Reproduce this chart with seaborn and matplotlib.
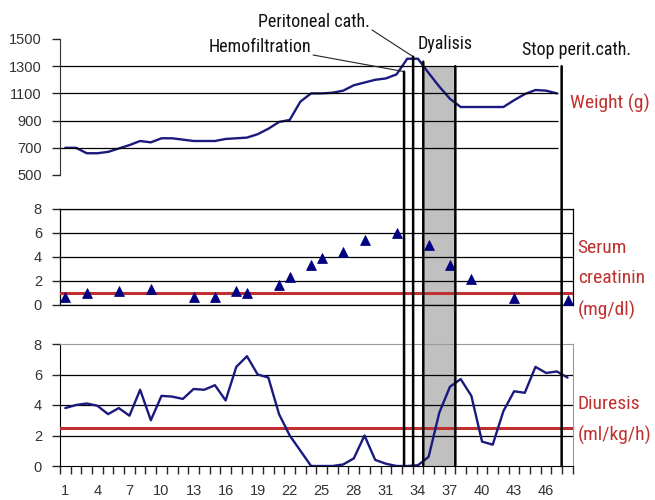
import numpy as np
import pandas as pd
import matplotlib
matplotlib.use("Agg")
import matplotlib.pyplot as plt
import matplotlib.transforms as mtransforms
from matplotlib import font_manager
from matplotlib.patches import Rectangle, ConnectionPatch
import seaborn as sns

# data (days 1..48)
days = list(range(1, 49))
weight = [700, 700, 660, 660, 670, 695, 720, 750, 740, 770,
          770, 760, 750, 750, 750, 765, 770, 775, 800, 840,
          890, 905, 1040, 1100, 1100, 1105, 1120, 1160, 1180, 1200,
          1210, 1240, 1355, 1355, 1250, 1150, 1060, 1000, 1000, 1000,
          1000, 1000, 1050, 1095, 1125, 1120, 1100, np.nan]
creat_days = [1, 3, 6, 9, 13, 15, 17, 18, 21, 22, 24, 25, 27, 29, 32, 35, 37, 39, 43, 48]
creatinin = [0.7, 1.0, 1.2, 1.3, 0.65, 0.65, 1.2, 1.0, 1.7, 2.3,
             3.3, 3.9, 4.4, 5.4, 6.0, 5.0, 3.3, 2.2, 0.6, 0.4]
diuresis = [3.8, 4.0, 4.1, 3.95, 3.4, 3.8, 3.3, 5.0, 3.0, 4.6,
            4.55, 4.4, 5.05, 5.0, 5.3, 4.3, 6.5, 7.2, 6.0, 5.8,
            3.4, 2.0, 1.0, 0.0, 0.0, 0.0, 0.1, 0.5, 2.0, 0.4,
            0.15, 0.0, 0.0, 0.05, 0.6, 3.5, 5.2, 5.7, 4.6, 1.6,
            1.4, 3.6, 4.9, 4.8, 6.5, 6.1, 6.2, 5.8]
tick_days = list(range(1, 49, 3))
creat_limit = 1.0
diuresis_limit = 2.5

# events: (day position, weight at top of line)
hemofiltration_day, hemofiltration_top = 32.7, 1260
peritoneal_day, peritoneal_top = 33.55, 1370
dialysis_start, dialysis_end, dialysis_top = 34.5, 37.5, 1300
stop_day, stop_top = 47.45, 1300

df_w = pd.DataFrame({"day": days, "weight": weight})
df_c = pd.DataFrame({"day": creat_days, "creatinin": creatinin})
df_d = pd.DataFrame({"day": days, "diuresis": diuresis})

sns.set_style("white")
plt.rcParams["font.family"] = ["Liberation Sans", "DejaVu Sans"]

# pick a condensed face if one is installed, else shrink the regular one
fonts = font_manager.fontManager.ttflist
names = {f.name for f in fonts}
narrow = dict(family=["Liberation Sans", "DejaVu Sans"])
scale = 0.82
for cand in ["Liberation Sans Narrow", "Roboto Condensed", "Open Sans Condensed",
             "Noto Sans Condensed", "DejaVu Sans Condensed"]:
    if cand in names:
        narrow = dict(family=[cand, "DejaVu Sans"])
        scale = 1.0
        break
else:
    if any(f.name == "DejaVu Sans" and str(f.stretch) in ("condensed", "semi-condensed")
           for f in fonts):
        narrow = dict(family=["DejaVu Sans"], fontstretch="condensed")
        scale = 0.9

navy = "#1a1a7e"
red = "#c03030"
fig = plt.figure(figsize=(6.55, 5.0), dpi=100)
ax1 = fig.add_axes([0.0916, 0.65, 0.783, 0.272])
ax2 = fig.add_axes([0.0916, 0.39, 0.783, 0.192])
ax3 = fig.add_axes([0.0916, 0.068, 0.783, 0.244])
xlim = (0.5, 48.5)

# weight
sns.lineplot(data=df_w, x="day", y="weight", ax=ax1, color=navy, lw=1.7)
ax1.set_ylim(500, 1500)
ax1.set_yticks([500, 700, 900, 1100, 1300, 1500])
ax1.hlines([700, 900, 1100, 1300], 0.5, 47.1, color="black", lw=0.9)
for s in ("top", "right", "bottom"):
    ax1.spines[s].set_visible(False)
ax1.spines["left"].set_color("#333333")
ax1.set_xticks([])

# creatinin
sns.scatterplot(data=df_c, x="day", y="creatinin", ax=ax2, marker="^",
                color="#000080", s=50, edgecolor="#000080", zorder=5)
ax2.axhline(creat_limit, color=red, lw=2.2, zorder=4)
ax2.set_ylim(0, 8)
ax2.set_yticks([0, 2, 4, 6, 8])
ax2.set_xticks([])
ax2.grid(axis="y", color="black", lw=0.9)
for s in ax2.spines.values():
    s.set_color("black")
    s.set_linewidth(0.9)

# diuresis
sns.lineplot(data=df_d, x="day", y="diuresis", ax=ax3, color=navy, lw=1.7, zorder=5)
ax3.axhline(diuresis_limit, color=red, lw=2.2, zorder=4)
ax3.set_ylim(0, 8)
ax3.set_yticks([0, 2, 4, 6, 8])
ax3.hlines([2, 4, 6], *xlim, color="black", lw=0.9)
ax3.set_xticks(tick_days)
ax3.set_xticks(np.arange(0.5, 49, 1), minor=True)
ax3.tick_params(axis="x", which="major", length=0, pad=13,
                labelsize=10.5, labelcolor="#333333")
ax3.tick_params(axis="x", which="minor", direction="out", length=6, width=1,
                bottom=True)
ax3.spines["left"].set_color("black")
ax3.spines["bottom"].set_color("black")
ax3.spines["top"].set_color("#999999")
ax3.spines["right"].set_color("#999999")

for ax in (ax1, ax2, ax3):
    ax.set_facecolor("none")
    ax.set_xlim(*xlim)
    ax.set_xlabel("")
    ax.set_ylabel("")
    ax.tick_params(axis="y", direction="out", length=6, width=1, pad=7,
                   labelsize=10.5, labelcolor="#333333", left=True)

# event lines spanning the three panels
def fig_y(ax, val):
    disp = ax.transData.transform((1, val))
    return fig.transFigure.inverted().transform(disp)[1]

blend = mtransforms.blended_transform_factory(ax3.transData, fig.transFigure)
y_bottom = fig_y(ax3, 0)
fig.add_artist(Rectangle((dialysis_start, y_bottom), dialysis_end - dialysis_start,
                         fig_y(ax1, dialysis_top) - y_bottom, transform=blend,
                         facecolor="#c0c0c0", edgecolor="none", zorder=-1))
for d, top in [(hemofiltration_day, hemofiltration_top), (peritoneal_day, peritoneal_top),
               (dialysis_start, 1333), (dialysis_end, dialysis_top), (stop_day, stop_top)]:
    con = ConnectionPatch(xyA=(d, top), coordsA="data", axesA=ax1,
                          xyB=(d, 0), coordsB="data", axesB=ax3,
                          color="black", lw=1.8, zorder=6)
    fig.add_artist(con)

# annotations
ann = dict(fontsize=13 * scale, va="center", color="#111111", **narrow)
fig.text(0.394, 0.956, "Peritoneal cath.", **ann)
fig.text(0.318, 0.906, "Hemofiltration", **ann)
fig.text(0.638, 0.912, "Dyalisis", **ann)
fig.text(0.797, 0.900, "Stop perit.cath.", **ann)
ax1.annotate("", xy=(hemofiltration_day, hemofiltration_top), xycoords="data",
             xytext=(0.478, 0.89), textcoords="figure fraction",
             arrowprops=dict(arrowstyle="-", lw=0.8, color="#222222",
                             shrinkA=0, shrinkB=0), annotation_clip=False)
ax1.annotate("", xy=(peritoneal_day, peritoneal_top), xycoords="data",
             xytext=(0.568, 0.94), textcoords="figure fraction",
             arrowprops=dict(arrowstyle="-", lw=0.8, color="#222222",
                             shrinkA=0, shrinkB=0), annotation_clip=False)

# series labels
lab = dict(fontsize=14 * scale, color=red, va="center", **narrow)
fig.text(0.870, 0.794, "Weight (g)", **lab)
fig.text(0.882, 0.504, "Serum", **lab)
fig.text(0.882, 0.444, "creatinin", **lab)
fig.text(0.882, 0.380, "(mg/dl)", **lab)
fig.text(0.882, 0.192, "Diuresis", **lab)
fig.text(0.882, 0.130, "(ml/kg/h)", **lab)

fig.savefig("out.png", dpi=100)
